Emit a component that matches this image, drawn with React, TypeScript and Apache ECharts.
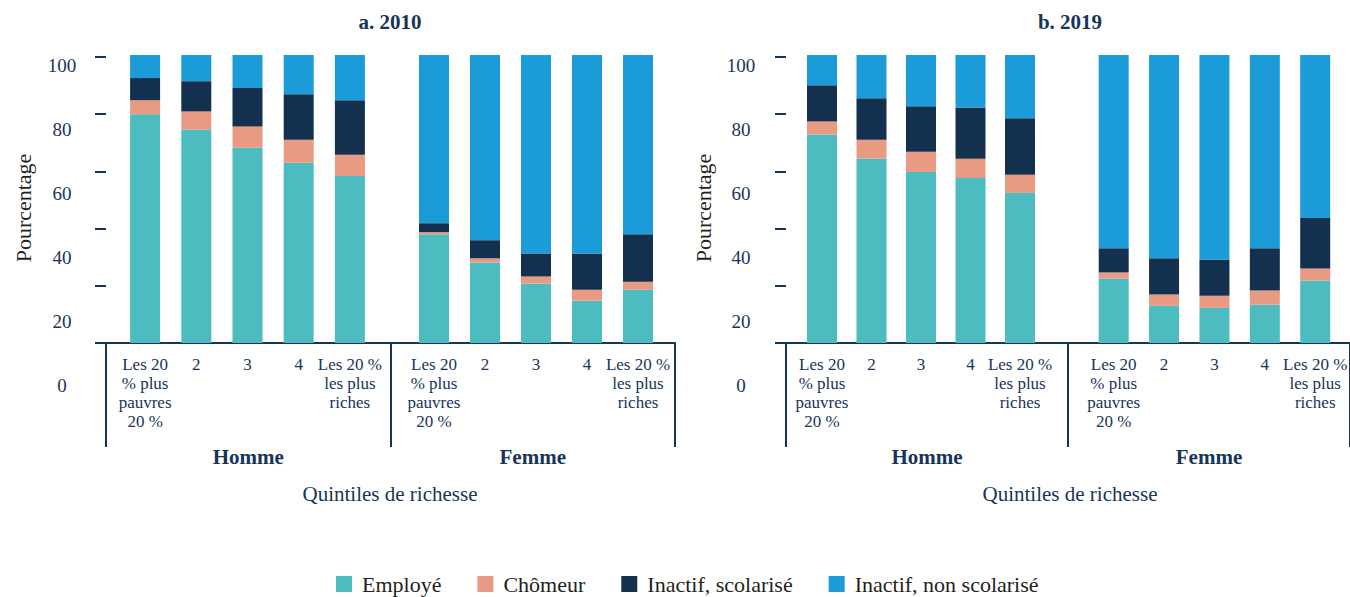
import React, { useEffect, useRef } from "react";
import * as echarts from "echarts";

// ---------- DATA ----------
const panelTitles = ["a. 2010", "b. 2019"];
const sexes = ["Homme", "Femme"];
const quintiles = ["Les 20\n% plus\npauvres\n20 %", "2", "3", "4", "Les 20 %\nles plus\nriches"];
const statusNames = ["Employé", "Chômeur", "Inactif, scolarisé", "Inactif, non scolarisé"];
const yAxisTitle = "Pourcentage";
const xAxisTitle = "Quintiles de richesse";

// 2010 — Homme
const employe2010Homme = [79.4, 74.1, 67.8, 62.6, 58.0];
const chomeur2010Homme = [4.9, 6.3, 7.4, 8.0, 7.4];
const scolarise2010Homme = [7.7, 10.5, 13.3, 15.8, 18.9];
const nonScolarise2010Homme = [8.0, 9.1, 11.5, 13.6, 15.7];
// 2010 — Femme
const employe2010Femme = [37.8, 27.9, 20.6, 14.7, 18.5];
const chomeur2010Femme = [0.7, 1.5, 2.5, 3.8, 2.8];
const scolarise2010Femme = [3.1, 6.3, 8.0, 12.6, 16.5];
const nonScolarise2010Femme = [58.4, 64.3, 68.9, 68.9, 62.2];
// 2019 — Homme
const employe2019Homme = [72.4, 64.0, 59.4, 57.3, 52.1];
const chomeur2019Homme = [4.5, 6.6, 7.0, 6.7, 6.3];
const scolarise2019Homme = [12.6, 14.4, 15.8, 17.8, 19.6];
const nonScolarise2019Homme = [10.5, 15.0, 17.8, 18.2, 22.0];
// 2019 — Femme
const employe2019Femme = [22.4, 12.9, 12.2, 13.3, 21.7];
const chomeur2019Femme = [2.1, 3.9, 4.2, 4.9, 4.2];
const scolarise2019Femme = [8.4, 12.6, 12.6, 14.7, 17.5];
const nonScolarise2019Femme = [67.1, 70.6, 71.0, 67.1, 56.6];

const yMin = 0;
const yMax = 100;
const yInterval = 20;

// ---------- STYLE / LAYOUT ----------
const colors = ["#4cbcc0", "#e89a82", "#14304f", "#1b9cd8"];
const NAVY = "#17355a";
const DARK = "#231f20";
const FONT = "Liberation Serif";

const panelData = [
  [
    [employe2010Homme, chomeur2010Homme, scolarise2010Homme, nonScolarise2010Homme],
    [employe2010Femme, chomeur2010Femme, scolarise2010Femme, nonScolarise2010Femme],
  ],
  [
    [employe2019Homme, chomeur2019Homme, scolarise2019Homme, nonScolarise2019Homme],
    [employe2019Femme, chomeur2019Femme, scolarise2019Femme, nonScolarise2019Femme],
  ],
];

// layout per panel
const panels = [
  { frameLeft: 106, frameWidth: 569, bars: [{ left: 119.5, width: 256 }, { left: 408.5, width: 255 }], labelLeft: 70, titleX: 390, yTitleX: 23 },
  { frameLeft: 786, frameWidth: 568, bars: [{ left: 797.25, width: 247.5 }, { left: 1088.5, width: 255 }], labelLeft: 749, titleX: 1070, yTitleX: 703 },
];

export default function App() {
  const ref = useRef<HTMLDivElement>(null);
  useEffect(() => {
    if (!ref.current) return;
    const chart = echarts.init(ref.current, null, { renderer: "svg" });
    const grids: any[] = [];
    const xAxes: any[] = [];
    const yAxes: any[] = [];
    const series: any[] = [];
    const graphic: any[] = [];

    panels.forEach((p, pi) => {
      // frame grid
      const fIdx = grids.length;
      grids.push({ left: p.frameLeft, width: p.frameWidth, top: 57, height: 286 });
      xAxes.push({
        type: "category", gridIndex: fIdx, data: sexes,
        axisLine: { show: true, lineStyle: { color: NAVY, width: 2 } },
        axisTick: { show: true, length: 104, interval: 0, lineStyle: { color: NAVY, width: 2 } },
        axisLabel: { margin: 103, fontFamily: FONT, fontSize: 21, fontWeight: "bold", color: NAVY },
        splitLine: { show: false },
      });
      yAxes.push({
        type: "value", gridIndex: fIdx, min: yMin, max: yMax, interval: yInterval,
        axisLine: { show: false },
        axisTick: { show: true, length: 11, lineStyle: { color: NAVY, width: 2 } },
        axisLabel: { show: false }, splitLine: { show: false },
      });

      // label grid (y tick labels)
      const lIdx = grids.length;
      grids.push({ left: p.labelLeft, width: 10, top: 65, height: 320 });
      xAxes.push({ type: "value", gridIndex: lIdx, show: false });
      yAxes.push({
        type: "value", gridIndex: lIdx, min: yMin, max: yMax, interval: yInterval,
        axisLine: { show: false }, axisTick: { show: false }, splitLine: { show: false },
        axisLabel: { show: true, align: "center", margin: 8, fontFamily: FONT, fontSize: 19, color: NAVY },
      });

      // bar grids
      p.bars.forEach((b, si) => {
        const gIdx = grids.length;
        grids.push({ left: b.left, width: b.width, top: 55, height: 288 });
        xAxes.push({
          type: "category", gridIndex: gIdx, data: quintiles,
          axisLine: { show: false }, axisTick: { show: false }, splitLine: { show: false },
          axisLabel: { interval: 0, margin: 12, fontFamily: FONT, fontSize: 17, lineHeight: 19, color: NAVY, align: "center" },
        });
        yAxes.push({ type: "value", gridIndex: gIdx, min: yMin, max: yMax, show: false, splitLine: { show: false } });
        statusNames.forEach((name, k) => {
          series.push({
            type: "bar", name, stack: `p${pi}s${si}`, xAxisIndex: gIdx, yAxisIndex: gIdx,
            data: panelData[pi][si][k], barWidth: 30, itemStyle: { color: colors[k] },
          });
        });
      });

      graphic.push({
        type: "text", x: p.titleX, y: 22,
        style: { text: panelTitles[pi], fontFamily: FONT, fontSize: 21, fontWeight: "bold", fill: NAVY, align: "center", verticalAlign: "middle" },
      });
      graphic.push({
        type: "text", x: p.yTitleX, y: 208, rotation: Math.PI / 2,
        style: { text: yAxisTitle, fontFamily: FONT, fontSize: 22, fill: DARK, align: "center", verticalAlign: "middle" },
      });
      graphic.push({
        type: "text", x: p.titleX, y: 494,
        style: { text: xAxisTitle, fontFamily: FONT, fontSize: 21, fill: NAVY, align: "center", verticalAlign: "middle" },
      });
    });

    chart.setOption({
      animation: false,
      grid: grids,
      xAxis: xAxes,
      yAxis: yAxes,
      series,
      graphic,
      legend: {
        data: statusNames, top: 573, left: 336, padding: 0, icon: "rect", itemWidth: 16, itemHeight: 16, itemGap: 36,
        textStyle: { fontFamily: FONT, fontSize: 22, color: DARK, padding: [0, 0, 0, 5] },
      },
    });
    return () => chart.dispose();
  }, []);
  return <div ref={ref} style={{ position: "absolute", left: 0, top: 0, width: 1350, height: 597 }} />;
}
